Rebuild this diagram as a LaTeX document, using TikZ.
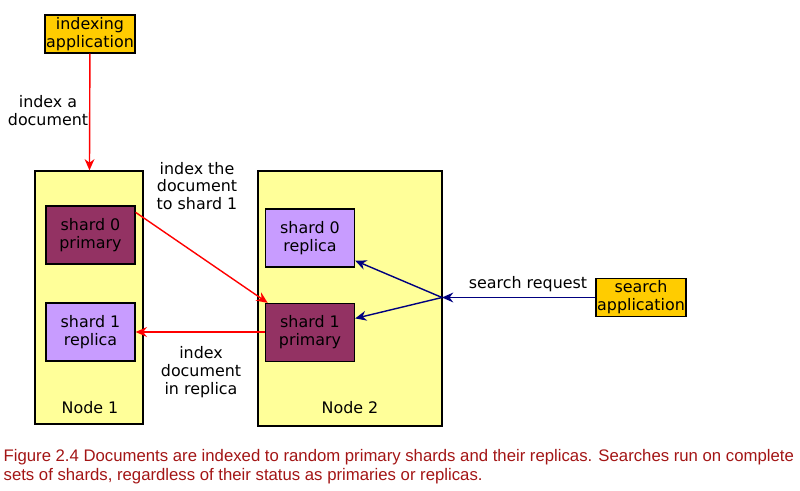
\documentclass[tikz,border=0pt]{standalone}
\usepackage{fontspec}
\setmainfont{DejaVu Sans}
\newfontfamily\capfont{Liberation Sans}
\usetikzlibrary{arrows.meta}
\definecolor{nodeyellow}{HTML}{FFFF99}
\definecolor{appgold}{HTML}{FFCC00}
\definecolor{primplum}{HTML}{933263}
\definecolor{replilac}{HTML}{C89CFF}
\definecolor{reqblue}{HTML}{00007F}
\definecolor{capred}{HTML}{A31515}
\tikzset{
  appbox/.style={draw, fill=appgold, minimum width=2.25cm, minimum height=0.95cm, inner sep=0pt, align=center},
  hostbox/.style={draw, fill=nodeyellow, inner sep=0pt},
  primary/.style={draw, fill=primplum, minimum width=2.225cm, minimum height=1.45cm, inner sep=0pt, align=center},
  replica/.style={draw, fill=replilac, minimum width=2.225cm, minimum height=1.45cm, inner sep=0pt, align=center},
  idx/.style={draw=red, line width=1pt, -{Stealth[length=8pt,width=7pt]}},
  srch/.style={draw=reqblue, line width=1pt, -{Stealth[length=8pt,width=7pt]}},
  lbl/.style={align=center, inner sep=0pt}
}
\begin{document}
\begin{tikzpicture}[x=0.025cm, y=-0.025cm, line width=0.9pt, font=\fontsize{11.3}{12.7}\selectfont]
  \useasboundingbox (0,0) rectangle (800,491);
  % cluster nodes
  \node[hostbox, minimum width=2.7cm, minimum height=6.325cm] (node1) at (89,297.5) {};
  \node[hostbox, minimum width=4.6cm, minimum height=6.375cm] (node2) at (350,298.5) {};
  \node[lbl] (node1lbl) at (90,408) {Node 1};
  \node[lbl] (node2lbl) at (350,408) {Node 2};
  % shards
  \node[primary] (s0p) at (90.5,235) {shard 0\\primary};
  \node[replica] (s1r) at (90.5,332) {shard 1\\replica};
  \node[replica] (s0r) at (310,238) {shard 0\\replica};
  \node[primary] (s1p) at (310,332.5) {shard 1\\primary};
  % applications
  \node[appbox] (idxapp) at (90,34) {indexing\\application};
  \node[appbox] (srchapp) at (641,297.5) {search\\application};
  \coordinate (hub) at (442,297.5);
  % indexing path
  \draw[idx] (idxapp) -- (node1);
  \draw[idx] ([yshift=-5pt]s0p.north east) -- ([xshift=2pt]s1p.north west);
  \draw[idx] (s1p.west |- s1r.east) -- (s1r.east);
  % search path
  \draw[srch] (srchapp) -- (hub);
  \draw[srch] (hub) -- ([yshift=5pt]s0r.south east);
  \draw[srch] (hub) -- ([yshift=10pt]s1p.east);
  % labels
  \node[lbl] (l1) at (48,111) {index a\\document};
  \node[lbl] (l2) at (197,186) {index the\\document\\to shard 1};
  \node[lbl] (l3) at (201,372) {index\\document\\in replica};
  \node[lbl] (l4) at (528,284) {search request};
  \node[anchor=north west, inner sep=0pt, align=left, text=capred, font=\capfont\fontsize{11.9}{13.6}\selectfont] (cap) at (3,449)
    {Figure 2.4 Documents are indexed to random primary shards and their replicas. Searches run on complete\\sets of shards, regardless of their status as primaries or replicas.};
\end{tikzpicture}
\end{document}
